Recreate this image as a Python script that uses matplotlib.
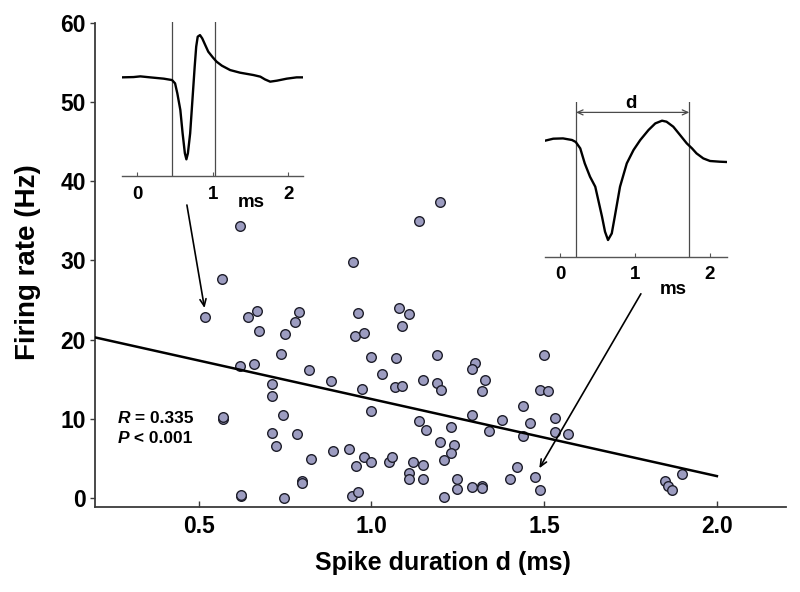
import matplotlib
matplotlib.use('Agg')
import matplotlib.pyplot as plt

plt.rcParams['font.family'] = ['Liberation Sans', 'DejaVu Sans']
plt.rcParams['font.weight'] = 'bold'

# ---- main scatter data: spike duration (ms) vs firing rate (Hz) ----
duration = [0.568, 0.519, 0.643, 0.668, 0.676, 0.790, 0.778, 0.751, 0.739, 0.620,
            0.661, 0.819, 0.884, 0.713, 0.713, 0.570, 0.570, 0.745, 0.713, 0.784,
            0.723, 0.824, 0.890, 0.624, 0.622, 0.746, 0.799, 0.799, 0.621,
            1.200, 1.138, 0.946, 0.961, 1.080, 1.110, 1.088, 0.952, 0.979, 1.000,
            1.070, 1.189, 1.299, 1.290, 1.499, 1.030, 1.069, 1.090, 1.149, 1.189,
            1.201, 1.329, 1.319, 1.488, 1.510, 0.972, 1.000, 1.438, 1.290, 1.378,
            1.459, 1.530, 1.138, 1.159, 1.230, 1.340, 1.438, 1.530, 1.569, 0.936,
            0.979, 0.954, 1.000, 1.050, 1.059, 1.120, 1.149, 1.200, 1.240, 1.230,
            1.210, 1.110, 1.110, 1.149, 1.249, 1.249, 1.290, 1.319, 1.319, 1.421,
            1.400, 1.473, 1.488, 1.210, 0.945, 0.961,
            1.899, 1.849, 1.859, 1.871]
rate = [27.65, 22.85, 22.85, 23.69, 21.16, 23.52, 22.26, 20.74, 18.22, 16.74,
        16.92, 16.20, 14.77, 14.43, 12.92, 9.97, 10.20, 10.48, 8.21, 8.08,
        6.60, 5.00, 5.93, 0.25, 0.45, 0.10, 2.22, 1.97, 34.4,
        37.32, 35.01, 29.84, 23.43, 23.99, 23.23, 21.76, 20.53, 20.91, 17.88,
        17.71, 18.06, 17.12, 16.36, 18.06, 15.69, 14.09, 14.14, 14.90, 14.60,
        13.67, 14.90, 13.51, 13.71, 13.55, 13.76, 11.02, 11.69, 10.56, 9.89,
        9.51, 10.18, 9.76, 8.66, 8.96, 8.54, 7.90, 8.33, 8.12, 6.19,
        5.18, 4.12, 4.62, 4.62, 5.18, 4.62, 4.20, 7.15, 6.69, 5.76,
        4.84, 3.16, 2.40, 2.47, 2.44, 1.17, 1.39, 1.59, 1.26, 3.99,
        2.47, 2.65, 1.05, 0.20, 0.29, 0.76,
        3.03, 2.22, 1.59, 1.09]

fit_x = [0.2, 2.0]
fit_y = [20.3, 2.8]
stat_r = "0.335"
stat_p = "0.001"

y_ticks = [0, 10, 20, 30, 40, 50, 60]
x_ticks = [0.5, 1.0, 1.5, 2.0]
x_ticklabels = ["0.5", "1.0", "1.5", "2.0"]
inset_ticks = [0, 1, 2]

# ---- inset waveforms (time in ms, amplitude in arbitrary units) ----
narrow_t = [-0.21, -0.05, 0.04, 0.17, 0.35, 0.46, 0.50, 0.53, 0.57, 0.60, 0.63, 0.65,
            0.67, 0.70, 0.73, 0.76, 0.78, 0.80, 0.83, 0.86, 0.90, 0.94, 1.00, 1.05,
            1.12, 1.23, 1.36, 1.54, 1.63, 1.69, 1.76, 1.85, 1.98, 2.11, 2.20]
narrow_v = [0, 0.3, 1, 0, -1.3, -2.7, -6, -16, -32.7, -56, -76, -82,
            -76, -56, -22.7, 10.7, 30.7, 40.7, 42.3, 39, 32.3, 25.7, 20, 15.7,
            11.7, 7.3, 4.7, 2.3, 0.7, -2, -4.3, -3.3, -1.3, 0, 0]
narrow_marks = [0.464, 1.03]

wide_t = [-0.20, -0.09, 0.04, 0.16, 0.21, 0.27, 0.33, 0.40, 0.47, 0.51, 0.56, 0.60,
          0.64, 0.69, 0.73, 0.80, 0.89, 0.98, 1.07, 1.18, 1.27, 1.36, 1.42, 1.51,
          1.60, 1.69, 1.76, 1.82, 1.91, 2.00, 2.13, 2.22]
wide_v = [0, 2, 2.3, 0.7, -1.3, -7.7, -22.7, -36, -46, -59.3, -76, -91,
          -99.3, -92.7, -76, -46, -22.7, -9.3, 0.7, 10.7, 17.3, 20, 19, 14,
          5.7, -2.7, -7.7, -12.7, -17.7, -20.3, -21, -21.3]
wide_marks = [0.213, 1.724]

W, H = 800, 592
fig = plt.figure(figsize=(8, 5.92), dpi=100)

def frac(left, top, right, bottom):
    return [left / W, 1 - bottom / H, (right - left) / W, (bottom - top) / H]

ax = fig.add_axes(frac(95, 22.7, 786, 506.7))
ax.set_xlim(0.2, 2.2)
ax.set_ylim(-1.06, 60)
for s in ['top', 'right']:
    ax.spines[s].set_visible(False)
for s in ['left', 'bottom']:
    ax.spines[s].set_color('#3a3a3a')
    ax.spines[s].set_linewidth(1.3)

ax.set_yticks(y_ticks)
ax.set_xticks(x_ticks)
ax.set_xticklabels(x_ticklabels)
ax.tick_params(axis='y', direction='out', length=3.5, width=1, color='#3a3a3a',
               labelsize=16.5, pad=3)
ax.tick_params(axis='x', direction='in', length=4, width=1, color='#3a3a3a',
               labelsize=16.5, pad=6)
for lbl in ax.get_xticklabels() + ax.get_yticklabels():
    lbl.set_fontweight('bold')

ax.scatter(duration, rate, s=48, facecolor='#9c9cc0', edgecolor='#1e1e2a',
           linewidth=1.0, zorder=3)
ax.plot(fit_x, fit_y, color='black', lw=1.8, zorder=4)

ax.annotate('', xy=(0.517, 24.0), xytext=(0.466, 37.0),
            arrowprops=dict(arrowstyle='->,head_length=0.5,head_width=0.22',
                            lw=1.2, color='black', shrinkA=0, shrinkB=0),
            annotation_clip=False, zorder=5)
ax.annotate('', xy=(1.486, 3.79), xytext=(1.780, 25.8),
            arrowprops=dict(arrowstyle='->,head_length=0.5,head_width=0.22',
                            lw=1.2, color='black', shrinkA=0, shrinkB=0),
            annotation_clip=False, zorder=5)

tR = ax.text(0.265, 10.1, 'R', style='italic', fontweight='bold', fontsize=12.5,
             ha='left', va='center')
ax.annotate(' = ' + stat_r, xy=(1, 0), xycoords=tR, ha='left', va='bottom',
            fontsize=12.5, fontweight='bold')
tP = ax.text(0.265, 7.58, 'P', style='italic', fontweight='bold', fontsize=12.5,
             ha='left', va='center')
ax.annotate(' < ' + stat_p, xy=(1, 0), xycoords=tP, ha='left', va='bottom',
            fontsize=12.5, fontweight='bold')

fig.text(28 / W, 1 - 262 / H, 'Firing rate (Hz)', rotation=90, ha='center',
         va='center', fontsize=20, fontweight='bold')
fig.text(443 / W, 1 - 563 / H, 'Spike duration d (ms)', ha='center', va='center',
         fontsize=18, fontweight='bold')

def style_inset(a):
    a.patch.set_alpha(0)
    for s in ['top', 'right', 'left']:
        a.spines[s].set_visible(False)
    a.spines['bottom'].set_color('#555555')
    a.spines['bottom'].set_linewidth(1.0)
    a.set_yticks([])
    a.set_xticks(inset_ticks)
    a.set_xticklabels([str(t) for t in inset_ticks])
    a.tick_params(axis='x', direction='in', length=3, width=0.8, color='#555555',
                  labelsize=13.5, pad=7)
    for lbl in a.get_xticklabels():
        lbl.set_fontweight('bold')

# left inset (narrow spike)
axL = fig.add_axes(frac(121.7, 21.7, 303.3, 176))
axL.set_xlim(-0.207, 2.199)
axL.set_ylim(-98.7, 55.7)
style_inset(axL)
for m in narrow_marks:
    axL.axvline(m, color='#4a4a4a', lw=0.9)
axL.plot(narrow_t, narrow_v, color='black', lw=1.7)
axL.text(1.515, -125.2, 'ms', ha='center', va='center', fontsize=13.5,
         fontweight='bold', clip_on=False)

# right inset (wide spike)
axR = fig.add_axes(frac(545, 101.7, 726.7, 256.7))
axR.set_xlim(-0.2, 2.222)
axR.set_ylim(-116, 39)
style_inset(axR)
for m in wide_marks:
    axR.axvline(m, color='#4a4a4a', lw=0.9)
axR.plot(wide_t, wide_v, color='black', lw=1.7)
axR.annotate('', xy=(wide_marks[0], 28.3), xytext=(wide_marks[1], 28.3),
             arrowprops=dict(arrowstyle='<->,head_length=0.4,head_width=0.18',
                             lw=0.9, color='#4a4a4a', shrinkA=0, shrinkB=0))
axR.text(0.947, 37.5, 'd', ha='center', va='center', fontsize=13.5,
         fontweight='bold', clip_on=False)
axR.text(1.507, -149.3, 'ms', ha='center', va='center', fontsize=13.5,
         fontweight='bold', clip_on=False)

fig.savefig('out.png', dpi=100)
